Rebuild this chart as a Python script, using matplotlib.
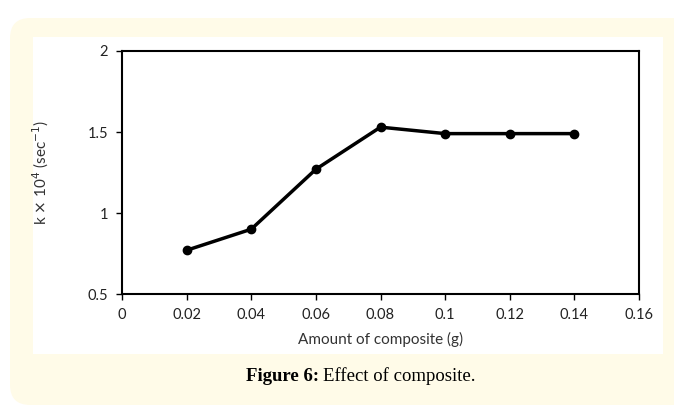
import matplotlib
matplotlib.use("Agg")
import matplotlib.pyplot as plt
from matplotlib.patches import FancyBboxPatch, Rectangle

# data
amount = [0.02, 0.04, 0.06, 0.08, 0.10, 0.12, 0.14]
k_val = [0.77, 0.90, 1.27, 1.53, 1.49, 1.49, 1.49]
x_ticks = [0, 0.02, 0.04, 0.06, 0.08, 0.1, 0.12, 0.14, 0.16]
x_labels = ["0", "0.02", "0.04", "0.06", "0.08", "0.1", "0.12", "0.14", "0.16"]
y_ticks = [0.5, 1, 1.5, 2]
y_labels = ["0.5", "1", "1.5", "2"]

W, H = 674, 411
fig = plt.figure(figsize=(W / 100, H / 100), dpi=100)
fig.patch.set_facecolor("white")

# yellow rounded panel + white chart area
panel = FancyBboxPatch((10 / W, 6 / H), (W + 20 - 10) / W, (H - 18 - 6) / H,
                       boxstyle="round,pad=0,rounding_size=0.03",
                       transform=fig.transFigure, facecolor="#fffbe8",
                       edgecolor="none", zorder=0, mutation_aspect=W / H)
fig.patches.append(panel)
fig.patches.append(Rectangle((33 / W, 1 - 354 / H), (663 - 33) / W, (354 - 37) / H,
                             transform=fig.transFigure, facecolor="white",
                             edgecolor="none", zorder=1))

ax = fig.add_axes([122 / W, 1 - 294 / H, (639 - 122) / W, (294 - 51) / H])
ax.set_zorder(3)
ax.set_facecolor("white")
ax.plot(amount, k_val, color="black", linewidth=2.5, marker="o", markersize=6,
        clip_on=False)

ax.set_xlim(0, 0.16)
ax.set_ylim(0.5, 2)
ax.set_xticks(x_ticks)
ax.set_xticklabels(x_labels)
ax.set_yticks(y_ticks)
ax.set_yticklabels(y_labels)
for lab in ax.get_xticklabels() + ax.get_yticklabels():
    lab.set_fontfamily("Lato")
    lab.set_fontsize(10.5)
    lab.set_color("#222222")
ax.tick_params(direction="out", length=4, width=1, color="black", pad=6)

for s in ax.spines.values():
    s.set_linewidth(1.5)
    s.set_color("black")

ax.set_xlabel("Amount of composite (g)", fontfamily="Lato", fontsize=11,
              color="#333333", labelpad=7)
ax.set_ylabel(r"k $\times$ 10$^4$ (sec$^{-1}$)", fontfamily="Lato",
              fontsize=11, color="#333333", labelpad=26)

fig.text(319 / W, 1 - 376 / H, "Figure 6:", fontfamily="Liberation Serif",
         fontsize=13.5, fontweight="bold", ha="right", va="center", zorder=4)
fig.text(323 / W, 1 - 376 / H, "Effect of composite.", fontfamily="Liberation Serif",
         fontsize=13.5, ha="left", va="center", zorder=4)

fig.savefig("out.png", dpi=100)
